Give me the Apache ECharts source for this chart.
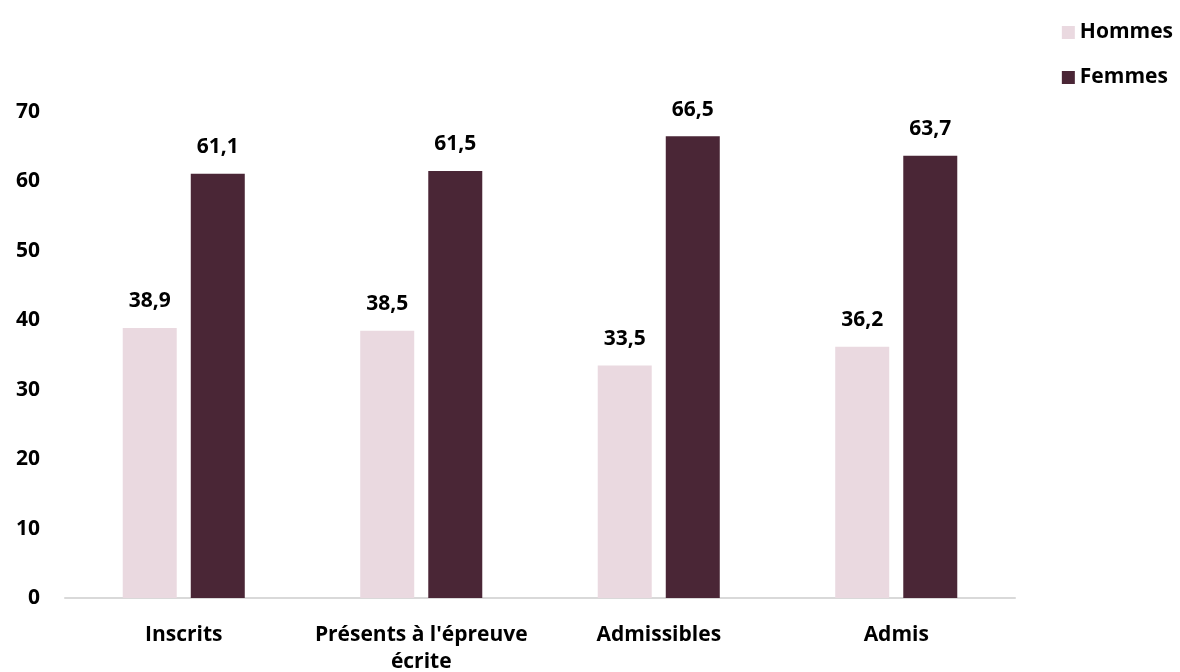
<!DOCTYPE html>
<html><head><meta charset="utf-8">
<script src="https://cdn.jsdelivr.net/npm/echarts@6/dist/echarts.min.js"></script>
<style>html,body{margin:0;padding:0;background:#fff}#c{width:1180px;height:672px}</style>
</head><body><div id="c"></div>
<script>
const categories = ['Inscrits', "Présents à l'épreuve écrite", 'Admissibles', 'Admis'];
const hommes = [38.9, 38.5, 33.5, 36.2];
const femmes = [61.1, 61.5, 66.5, 63.7];
const yTicks = [0, 10, 20, 30, 40, 50, 60, 70];

const font = '"Open Sans", "Liberation Sans", sans-serif';
const chart = echarts.init(document.getElementById('c'));
const lbl = {
  show: true, position: 'top', distance: 16,
  fontFamily: font, fontWeight: 'bold', fontSize: 21, color: '#000',
  formatter: p => p.value.toFixed(1).replace('.', ',')
};
chart.setOption({
  animation: false,
  textStyle: { fontFamily: font },
  legend: {
    orient: 'vertical', right: 2, top: 17, itemGap: 24,
    itemWidth: 13, itemHeight: 13, icon: 'rect',
    textStyle: { fontFamily: font, fontWeight: 'bold', fontSize: 21, color: '#000' },
    data: ['Hommes', 'Femmes']
  },
  grid: { left: 65, right: 165, top: 112, bottom: 74, outerBoundsMode: 'none', containLabel: false },
  xAxis: {
    type: 'category', data: categories,
    axisLine: { lineStyle: { color: '#d9d9d9', width: 2 } },
    axisTick: { show: false },
    axisLabel: {
      fontFamily: font, fontWeight: 'bold', fontSize: 21, color: '#000',
      margin: 24, lineHeight: 27, interval: 0,
      formatter: v => v.replace(" écrite", "\nécrite")
    }
  },
  yAxis: {
    type: 'value', min: yTicks[0], max: yTicks[yTicks.length - 1], interval: 10,
    splitLine: { show: false },
    axisLine: { show: false }, axisTick: { show: false },
    axisLabel: { fontFamily: font, fontWeight: 'bold', fontSize: 21, color: '#000', margin: 25 }
  },
  series: [
    { name: 'Hommes', type: 'bar', data: hommes, barWidth: 54, barGap: '26%',
      itemStyle: { color: '#ead9e0' }, label: lbl },
    { name: 'Femmes', type: 'bar', data: femmes, barWidth: 54,
      itemStyle: { color: '#4a2636' }, label: lbl }
  ]
});
</script></body></html>
